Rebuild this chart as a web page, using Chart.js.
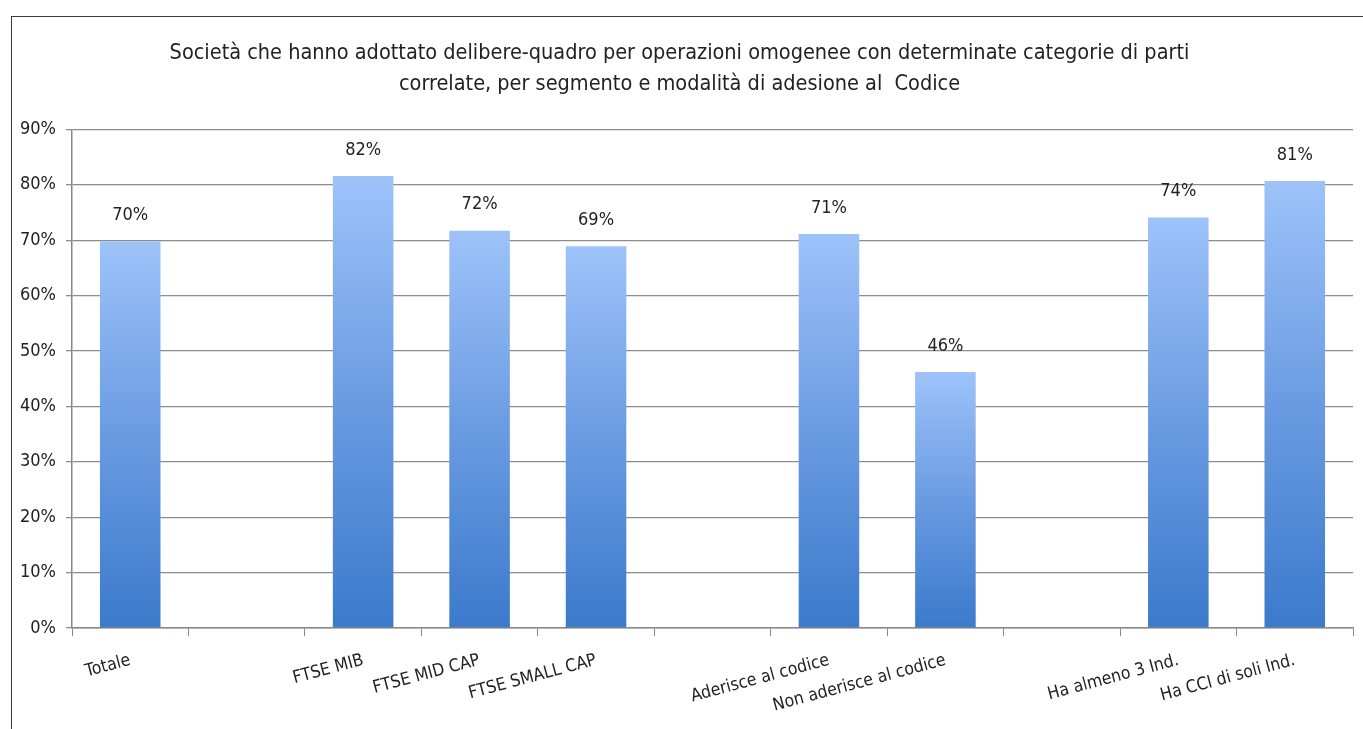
<!DOCTYPE html>
<html>
<head>
<meta charset="utf-8">
<script src="https://cdn.jsdelivr.net/npm/chart.js@4.4.0/dist/chart.umd.min.js"></script>
<style>
  html, body { margin: 0; padding: 0; background: #fff; }
  #wrap { position: relative; width: 1363px; height: 729px; overflow: hidden; }
  #frame { position: absolute; left: 11px; top: 16px; width: 1400px; height: 800px;
           border-left: 1.5px solid #3a3a3a; border-top: 1.5px solid #3a3a3a; }
  canvas { position: absolute; left: 0; top: 0; }
</style>
</head>
<body>
<div id="wrap">
  <div id="frame"></div>
  <canvas id="myChart" width="1363" height="729"></canvas>
</div>
<script>
document.addEventListener('DOMContentLoaded', function () {

// dati del grafico (le categorie vuote sono gli spazi tra i gruppi)
const categories = ['Totale', '', 'FTSE MIB', 'FTSE MID CAP', 'FTSE SMALL CAP', '',
  'Aderisce al codice', 'Non aderisce al codice', '', 'Ha almeno 3 Ind.', 'Ha CCI di soli Ind.'];
const values = [69.8, null, 81.6, 71.7, 68.9, null, 71.1, 46.2, null, 74.1, 80.7];
const yTicks = [0, 10, 20, 30, 40, 50, 60, 70, 80, 90];
const titleLines = ['Società che hanno adottato delibere-quadro per operazioni omogenee con determinate categorie di parti',
  'correlate, per segmento e modalità di adesione al  Codice'];

const FONT = "'Liberation Sans Narrow', 'DejaVu Sans Condensed', sans-serif";

// sfumatura per ogni barra (chiaro in alto, scuro in basso)
function barGradient(context) {
    const chart = context.chart;
    const yScale = chart.scales.y;
    if (!chart.chartArea || !yScale || context.raw == null) return '#6a9be0';
    const top = yScale.getPixelForValue(context.raw);
    const bottom = yScale.getPixelForValue(0);
    const g = chart.ctx.createLinearGradient(0, top, 0, bottom);
    g.addColorStop(0, '#9dc3f9');
    g.addColorStop(0.5, '#6a9be2');
    g.addColorStop(1, '#3b7acb');
    return g;
}

// etichette sopra le barre
const valueLabels = {
    id: 'valueLabels',
    afterDatasetsDraw(chart) {
        const ctx = chart.ctx;
        const meta = chart.getDatasetMeta(0);
        ctx.save();
        ctx.font = '18px ' + FONT;
        ctx.fillStyle = '#222';
        ctx.textAlign = 'center';
        ctx.textBaseline = 'bottom';
        meta.data.forEach((bar, i) => {
            if (values[i] == null) return;
            ctx.fillText(Math.round(values[i]) + '%', bar.x, bar.y - 17);
        });
        ctx.restore();
    }
};

const ctx = document.getElementById('myChart').getContext('2d');
new Chart(ctx, {
    type: 'bar',
    data: {
        labels: categories,
        datasets: [{
            data: values,
            backgroundColor: barGradient,
            borderWidth: 0,
            categoryPercentage: 1,
            barPercentage: 0.52,
        }],
    },
    options: {
        responsive: false,
        animation: false,
        layout: { padding: { left: 6, right: 10, top: 38, bottom: 0 } },
        plugins: {
            legend: { display: false },
            tooltip: { enabled: false },
            title: {
                display: true,
                text: titleLines,
                color: '#222',
                font: { family: FONT, size: 21.5, weight: 'normal', lineHeight: 1.45 },
                padding: { top: 0, bottom: 29 },
            },
        },
        scales: {
            x: {
                grid: { display: true, offset: true, drawOnChartArea: false, tickLength: 8, color: '#888' },
                border: { display: true, color: '#888', width: 1.5 },
                ticks: {
                    autoSkip: false,
                    maxRotation: 15,
                    minRotation: 15,
                    color: '#222',
                    font: { family: FONT, size: 17.5 },
                    padding: 14,
                },
                afterFit(scale) { scale.height = 101; },
            },
            y: {
                min: 0,
                max: 90,
                afterBuildTicks(scale) { scale.ticks = yTicks.map(v => ({ value: v })); },
                grid: { color: '#8c8c8c', lineWidth: 1.3, tickLength: 6 },
                border: { display: true, color: '#888', width: 1.5 },
                ticks: {
                    color: '#222',
                    font: { family: FONT, size: 18 },
                    padding: 10,
                    callback: v => v + '%',
                },
                afterFit(scale) { scale.width = 66; },
            },
        },
    },
    plugins: [valueLabels],
});

});
</script>
</body>
</html>
